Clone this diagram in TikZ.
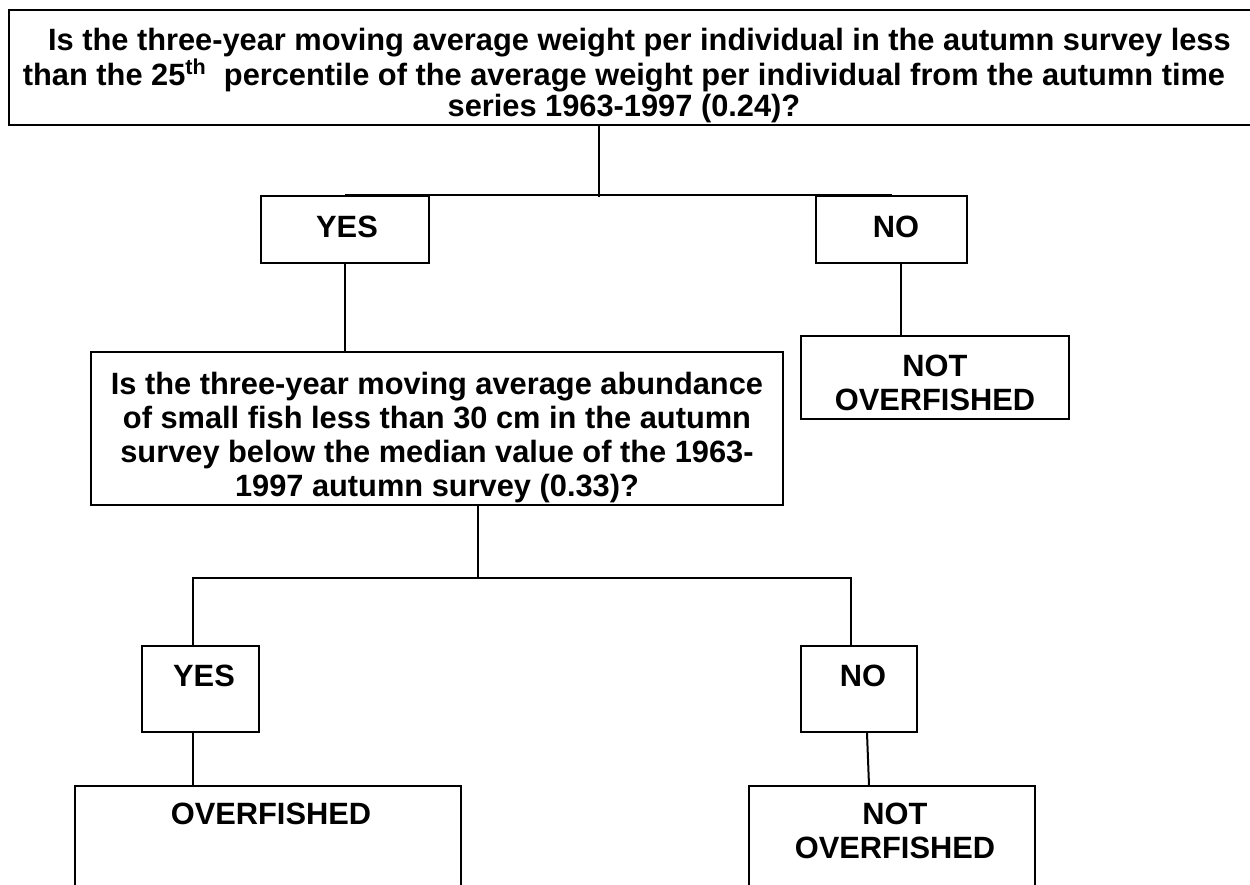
\documentclass[tikz,border=0pt]{standalone}
\usepackage{fontspec}
\setmainfont{Liberation Sans}

\begin{document}
\begin{tikzpicture}[x=0.5pt,y=-0.5pt,
    box/.style={draw,line width=1pt,rectangle,inner sep=0pt},
    lbl/.style={inner sep=0pt,anchor=north,align=center,
      font=\bfseries\fontsize{15.4pt}{17pt}\selectfont}]
  \clip (0,0) rectangle (1250,885);
  % Boxes.
  \node[box,minimum width=626.5pt,minimum height=57.5pt] (q1) at (635.5,67.5) {};
  \node[box,minimum width=84pt,minimum height=33.5pt] (yes1) at (345,229.5) {};
  \node[box,minimum width=75.5pt,minimum height=33.5pt] (no1) at (891.5,229.5) {};
  \node[box,minimum width=346pt,minimum height=76.5pt] (q2) at (437,428.5) {};
  \node[box,minimum width=134pt,minimum height=41.5pt] (nof1) at (935,377.5) {};
  \node[box,minimum width=58.5pt,minimum height=43pt] (yes2) at (200.5,689) {};
  \node[box,minimum width=58pt,minimum height=43pt] (no2) at (859,689) {};
  \node[box,minimum width=193pt,minimum height=87pt] (over) at (268,873) {};
  \node[box,minimum width=143pt,minimum height=87pt] (nof2) at (892,873) {};
  % Texts.
  \node[lbl,font=\bfseries\fontsize{15.4pt}{15.5pt}\selectfont] (q1text) at (624,28)
    {\hspace*{1em}Is the three-year moving average weight per individual in the autumn survey less\\
    than the 25\textsuperscript{th}\ \ percentile of the average weight per individual from the autumn time\\
    series 1963-1997 (0.24)?};
  \node[lbl] (yes1text) at (347,216) {YES};
  \node[lbl] (no1text) at (896,216) {NO};
  \node[lbl] (q2text) at (437,372) {Is the three-year moving average abundance\\
    of small fish less than 30 cm in the autumn\\
    survey below the median value of the 1963-\\
    1997 autumn survey (0.33)?};
  \node[lbl] (nof1text) at (935,355) {NOT\\OVERFISHED};
  \node[lbl] (yes2text) at (204,665) {YES};
  \node[lbl] (no2text) at (863,665) {NO};
  \node[lbl] (overtext) at (271,803) {OVERFISHED};
  \node[lbl] (nof2text) at (895,803) {NOT\\OVERFISHED};
  % Connectors.
  \coordinate (j1) at (599,197);
  \coordinate (j2) at ([xshift=4.75pt]no1.south);
  \coordinate (j3) at (478,578);
  \coordinate (j4) at (193,578);
  \coordinate (j5) at (851,578);
  \draw[line width=1pt] (q1.south -| j1) -- (j1);
  \draw[line width=1pt] (yes1.north) -- (no1.north);
  \draw[line width=1pt] (yes1.south) -- (q2.north -| yes1.south);
  \draw[line width=1pt] (j2) -- (nof1.north -| j2);
  \draw[line width=1pt] (q2.south -| j3) -- (j3);
  \draw[line width=1pt] (yes2.north -| j4) -- (j4) -- (j5) -- (no2.north -| j5);
  \draw[line width=1pt] (yes2.south -| j4) -- (over.north -| j4);
  \draw[line width=1pt] ([xshift=4pt]no2.south) -- ([xshift=-11.5pt]nof2.north);
\end{tikzpicture}
\end{document}
